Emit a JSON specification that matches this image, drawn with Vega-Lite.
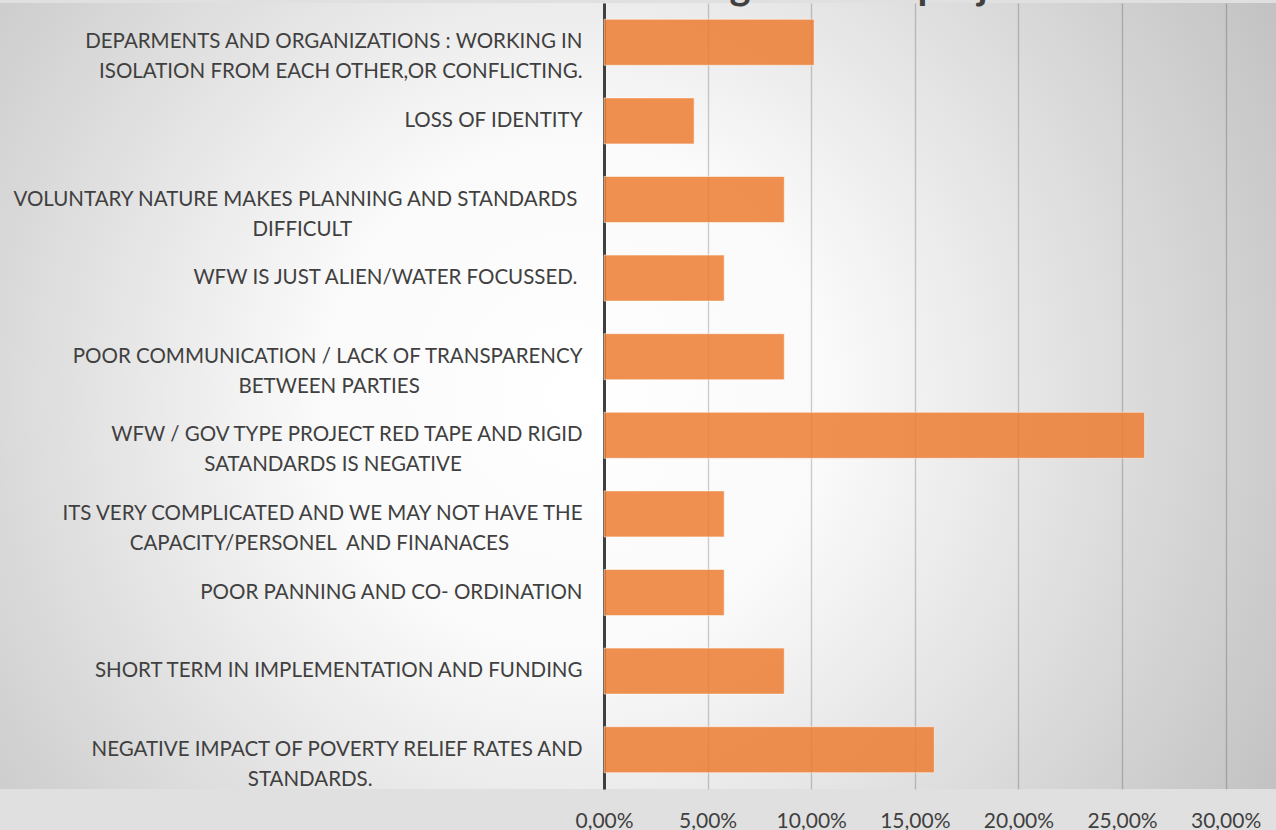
{
  "$schema": "https://vega.github.io/schema/vega-lite/v6.json",
  "width": 1276,
  "height": 786,
  "autosize": {"type": "none"},
  "padding": {"left": 0, "top": 3, "right": 0, "bottom": 41},
  "background": "#e0e0e0",
  "view": {
    "stroke": null,
    "fill": {
      "gradient": "radial",
      "x1": 0.45, "y1": 0.5, "r1": 0,
      "x2": 0.45, "y2": 0.5, "r2": 0.67,
      "stops": [
        {"offset": 0, "color": "#ffffff"},
        {"offset": 0.3, "color": "#fafafa"},
        {"offset": 1, "color": "#bdbdbd"}
      ]
    }
  },
  "title": {
    "text": "Drawbacks of working with the project",
    "anchor": "start",
    "frame": "group",
    "dx": 353,
    "offset": -36,
    "baseline": "alphabetic",
    "font": "Lato",
    "fontSize": 40,
    "fontWeight": "bold",
    "color": "#404040"
  },
  "data": {
    "values": [
      {"concern": "DEPARMENTS AND ORGANIZATIONS : WORKING IN\nISOLATION FROM EACH OTHER,OR CONFLICTING.", "share": 0.1014},
      {"concern": "LOSS OF IDENTITY", "share": 0.0435},
      {"concern": "VOLUNTARY NATURE MAKES PLANNING AND STANDARDS \nDIFFICULT", "share": 0.087},
      {"concern": "WFW IS JUST ALIEN/WATER FOCUSSED. ", "share": 0.058},
      {"concern": "POOR COMMUNICATION / LACK OF TRANSPARENCY\nBETWEEN PARTIES", "share": 0.087},
      {"concern": "WFW / GOV TYPE PROJECT RED TAPE AND RIGID\nSATANDARDS IS NEGATIVE", "share": 0.2609},
      {"concern": "ITS VERY COMPLICATED AND WE MAY NOT HAVE THE\nCAPACITY/PERSONEL\u00a0 AND FINANACES", "share": 0.058},
      {"concern": "POOR PANNING AND CO- ORDINATION", "share": 0.058},
      {"concern": "SHORT TERM IN IMPLEMENTATION AND FUNDING", "share": 0.087},
      {"concern": "NEGATIVE IMPACT OF POVERTY RELIEF RATES AND\nSTANDARDS.", "share": 0.1594}
    ]
  },
  "mark": {
    "type": "bar",
    "fill": "#ED7D31",
    "fillOpacity": 0.85,
    "stroke": "#ffffff",
    "strokeOpacity": 0.5,
    "strokeWidth": 1
  },
  "encoding": {
    "y": {
      "field": "concern",
      "type": "nominal",
      "sort": null,
      "scale": {"paddingInner": 0.415, "paddingOuter": 0.2075},
      "axis": {
        "title": null,
        "orient": "left",
        "offset": -604,
        "ticks": false,
        "tickSize": 0,
        "domain": true,
        "domainColor": "#404040",
        "domainWidth": 3,
        "grid": false,
        "labelPadding": 22,
        "labelFont": "Lato",
        "labelFontSize": 20.5,
        "labelColor": "#404040",
        "labelLineHeight": 30,
        "labelLimit": 800,
        "labelBaseline": "middle",
        "labelAlign": "right",
        "labelExpr": "length(split(datum.label,'\\n'))>1 ? [replace(split(datum.label,'\\n')[0], regexp(' $'), '\u00a0') + '\u2060', pad(split(datum.label,'\\n')[1], length(split(datum.label,'\\n')[1]) + round(1.2*(length(split(datum.label,'\\n')[0]) - length(split(datum.label,'\\n')[1]))), '\u00a0') + '\u2060'] : replace(datum.label, regexp(' $'), '\u00a0') + '\u2060'"
      }
    },
    "x": {
      "field": "share",
      "type": "quantitative",
      "scale": {"domain": [-0.2915, 0.3243], "nice": false, "zero": false},
      "axis": {
        "title": null,
        "values": [0, 0.05, 0.1, 0.15, 0.2, 0.25, 0.3],
        "labelExpr": "replace(format(datum.value,'.2%'),'.',',')",
        "domain": false,
        "ticks": false,
        "tickSize": 0,
        "grid": true,
        "gridColor": "#000000",
        "gridOpacity": 0.19,
        "gridWidth": 1.4,
        "labelFont": "Lato",
        "labelFontSize": 21,
        "labelColor": "#404040",
        "labelPadding": 21
      }
    },
    "x2": {"datum": 0}
  }
}
